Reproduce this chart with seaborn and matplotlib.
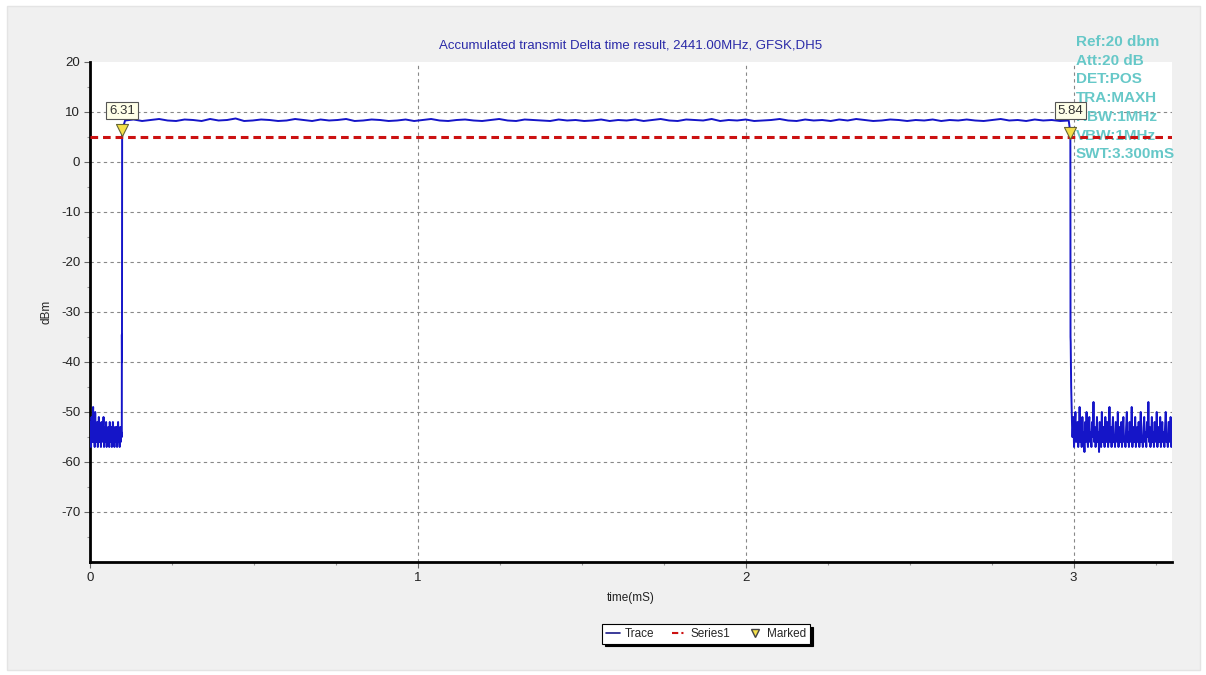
import numpy as np
import pandas as pd
import matplotlib
matplotlib.use("Agg")
import matplotlib.pyplot as plt
from matplotlib.lines import Line2D
from matplotlib.patches import Rectangle
import seaborn as sns

# --- data ---
# noise floor before the burst (0 .. 0.097 ms)
noise_left_db = [-55, -52, -57, -51, -56, -53, -49, -56, -54, -57, -50, -55, -53, -56, -52, -57,
                 -54, -51, -56, -55, -53, -57, -52, -56, -54, -55, -51, -57, -53, -56, -55, -52,
                 -57, -54, -56, -53, -55, -57, -52, -56, -54, -53, -57, -55, -52, -56, -54, -57,
                 -53, -55, -56, -53, -57, -54, -52, -56, -55, -57, -53, -56, -54, -55]
# rising edge
rise_t = [0.0970, 0.0971, 0.0972, 0.0975, 0.0980, 0.1070]
rise_db = [-55.0, -40.0, -34.5, -40.0, 6.31, 8.3]
# burst plateau (0.107 .. 2.985 ms)
flat_db = [8.3, 8.5, 8.2, 8.4, 8.6, 8.3, 8.2, 8.5, 8.4, 8.2, 8.6, 8.3, 8.4, 8.7, 8.2, 8.3,
           8.5, 8.4, 8.2, 8.3, 8.6, 8.4, 8.2, 8.5, 8.3, 8.4, 8.6, 8.2, 8.3, 8.5, 8.4, 8.2,
           8.3, 8.5, 8.2, 8.4, 8.6, 8.3, 8.2, 8.4, 8.5, 8.3, 8.2, 8.4, 8.6, 8.3, 8.2, 8.5,
           8.4, 8.3, 8.2, 8.5, 8.3, 8.4, 8.2, 8.3, 8.5, 8.2, 8.4, 8.3, 8.5, 8.2, 8.4, 8.6,
           8.3, 8.2, 8.5, 8.4, 8.3, 8.6, 8.2, 8.4, 8.3, 8.5, 8.2, 8.3, 8.4, 8.6, 8.3, 8.2,
           8.5, 8.3, 8.4, 8.2, 8.5, 8.3, 8.6, 8.4, 8.2, 8.3, 8.5, 8.4, 8.2, 8.4, 8.3, 8.5,
           8.2, 8.4, 8.3, 8.5, 8.3, 8.2, 8.4, 8.6, 8.3, 8.4, 8.2, 8.5, 8.3, 8.4, 8.2, 8.3]
# falling edge
fall_t = [2.985, 2.990, 2.9905, 2.991, 2.9925, 2.996]
fall_db = [8.3, 5.84, -35.0, -36.0, -45.0, -55.0]
# noise floor after the burst (2.997 .. 3.3 ms)
noise_right_db = [-55, -51, -57, -53, -50, -56, -54, -52, -57, -55, -49, -56, -53, -57, -51, -55,
                  -54, -58, -52, -56, -50, -55, -57, -53, -51, -56, -54, -57, -52, -55, -48, -56,
                  -53, -57, -55, -51, -56, -54, -58, -52, -55, -57, -50, -56, -53, -55, -57, -51,
                  -54, -56, -52, -57, -55, -49, -56, -53, -57, -54, -51, -56, -55, -57, -52, -54,
                  -56, -50, -57, -53, -55, -56, -52, -57, -54, -51, -56, -55, -57, -53, -50, -56,
                  -54, -57, -52, -55, -56, -49, -57, -54, -53, -56, -51, -57, -55, -53, -56, -52,
                  -57, -54, -50, -56, -55, -57, -53, -51, -56, -54, -57, -52, -55, -48, -56, -53,
                  -57, -55, -51, -56, -54, -57, -52, -55, -56, -50, -57, -54, -53, -56, -51, -57,
                  -55, -52, -56, -54, -57, -53, -50, -56, -55, -57, -52, -54, -56, -51, -57, -55]

limit_db = 5.0
marker_t = [0.098, 2.990]
marker_db = [6.31, 5.84]
marker_labels = ["6.31", "5.84"]

info_lines = ["Ref:20 dbm", "Att:20 dB", "DET:POS", "TRA:MAXH", "RBW:1MHz", "VBW:1MHz", "SWT:3.300mS"]
title = "Accumulated transmit Delta time result, 2441.00MHz, GFSK,DH5"

# sample positions of each segment
t_left = np.linspace(0.0, 0.0968, len(noise_left_db))
t_flat = np.linspace(0.107, 2.985, len(flat_db))
t_right = np.linspace(2.997, 3.3, len(noise_right_db))

trace = pd.DataFrame({
    "time": np.concatenate([t_left, rise_t, t_flat, fall_t, t_right]),
    "dBm": np.concatenate([noise_left_db, rise_db, flat_db, fall_db, noise_right_db]),
})

sns.set_theme(style="white")
plt.rcParams["font.family"] = ["Liberation Sans", "DejaVu Sans"]
plt.rcParams["axes.unicode_minus"] = False

fig = plt.figure(figsize=(12.06, 6.75), dpi=100)
fig.patch.set_facecolor("white")
fig.patches.append(Rectangle((7 / 1206, 5 / 675), 1193 / 1206, 664 / 675, transform=fig.transFigure,
                             facecolor="#f0f0f0", edgecolor="#e4e4e4", lw=1, zorder=-10))
ax = fig.add_axes([90 / 1206, 1 - 562 / 675, 1082 / 1206, 500 / 675])
ax.set_facecolor("white")

sns.lineplot(data=trace, x="time", y="dBm", sort=False, estimator=None, color="#1515c8",
             lw=1.4, ax=ax, zorder=3)
ax.axhline(limit_db, color="#cc1111", lw=2.2, ls=(0, (2.5, 1.6)), zorder=4)
sns.scatterplot(x=marker_t, y=marker_db, marker="v", s=75, color="#f4e04a", edgecolor="#666633",
                linewidth=0.8, ax=ax, zorder=6)
for t, lab in zip(marker_t, marker_labels):
    ax.annotate(lab, (t, 10.3), ha="center", va="center", fontsize=9.5, color="#333333", zorder=7,
                bbox=dict(boxstyle="square,pad=0.22", fc="#ffffe8", ec="#555555", lw=0.8))

ax.set_xlim(0, 3.3)
ax.set_ylim(-80, 20)
ax.set_xticks([0, 1, 2, 3])
ax.set_xticks(np.arange(0, 3.3, 0.25), minor=True)
ax.set_yticks(np.arange(-70, 21, 10))
ax.set_yticks(np.arange(-75, 20, 5), minor=True)
ax.tick_params(axis="both", which="major", direction="out", length=4, width=0.8, color="#666666",
               labelsize=9.5, labelcolor="#222222", pad=3, left=True, bottom=True)
ax.tick_params(axis="both", which="minor", direction="out", length=2.5, width=0.8, color="#999999",
               left=True, bottom=True)
ax.grid(True, which="major", color="#888888", ls=(0, (3, 3)), lw=0.8)
ax.yaxis.get_gridlines()[-1].set_visible(False)
ax.xaxis.get_gridlines()[0].set_visible(False)
for s in ["top", "right"]:
    ax.spines[s].set_visible(False)
for s in ["left", "bottom"]:
    ax.spines[s].set_color("black")
    ax.spines[s].set_linewidth(2)

ax.set_xlabel("time(mS)", fontsize=8.5, color="#222222", labelpad=6)
ax.set_ylabel("dBm", fontsize=8.5, color="#222222", labelpad=6)

fig.text(631 / 1206, 1 - 45 / 675, title, ha="center", va="center", fontsize=9.5, color="#2a2aa8")
for i, line in enumerate(info_lines):
    ax.text(1076 / 1206, 1 - (42 + 18.7 * i) / 675, line, transform=fig.transFigure, ha="left",
            va="center", fontsize=11, color="#66c8c8", fontweight="bold", zorder=1, clip_on=False)

handles = [
    Line2D([], [], color="#1a1a88", lw=1.2),
    Line2D([], [], color="#cc1111", lw=1.5, ls=(0, (3, 1.5, 1, 1.5))),
    Line2D([], [], marker="v", color="none", markerfacecolor="#f4e04a", markeredgecolor="#444444",
           markersize=6),
]
leg = fig.legend(handles, ["Trace", "Series1", "Marked"], loc="center", ncol=3,
                 bbox_to_anchor=(706 / 1206, 1 - 634 / 675), fontsize=8.5, frameon=True, fancybox=False,
                 shadow={"color": "black", "alpha": 1.0}, handlelength=1.2, handletextpad=0.4,
                 columnspacing=1.5, borderpad=0.3, edgecolor="black")
leg.get_frame().set_linewidth(0.8)

fig.savefig("out.png", dpi=100, facecolor=fig.get_facecolor())
